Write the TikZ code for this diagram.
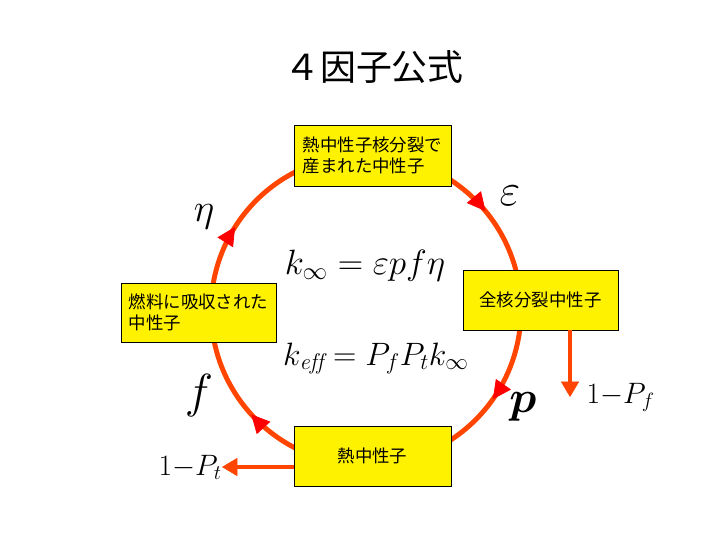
\documentclass[tikz,border=0pt]{standalone}
\usepackage{fix-cm}
\usepackage{amsmath}
\usepackage{fontspec}
\usepackage{xcolor}
\usepackage{tikz}
\usetikzlibrary{arrows.meta,positioning,decorations.markings}

\newfontfamily\jafont{Noto Sans CJK JP}
\definecolor{ringred}{RGB}{255,69,0}

\begin{document}
\begin{tikzpicture}[
    x=0.025cm, y=-0.025cm,
    nbox/.style={
        rectangle, draw=black, line width=0.6pt, fill=yellow,
        align=left, inner sep=0pt,
        font=\fontsize{12.4}{15}\selectfont\jafont,
    },
    ring/.style={
        draw=ringred, line width=3.5pt, postaction={decorate},
        decoration={markings, mark=at position #1 with {\arrow{Triangle[length=13pt,width=13pt,line width=0.5pt,color=red,fill=red]}}},
    },
    branch/.style={draw=ringred, line width=3.5pt, -{Triangle[length=11pt,width=13pt,line width=0.5pt]}},
    sym/.style={font=\fontsize{#1}{#1}\selectfont, inner sep=1pt},
]
\useasboundingbox (0,0) rectangle (720,540);

% points on the cycle
\coordinate (ctop) at (366,155);
\coordinate (cright) at (521,310);
\coordinate (cbot) at (366,465);
\coordinate (cleft) at (211,310);

% Title
\node[font=\fontsize{25.5}{30}\selectfont\jafont] (title) at (374,67) {４因子公式};

% Cycle
\draw[ring=0.56] (ctop) to[bend left=45] (cright);
\draw[ring=0.39] (cright) to[bend left=45] (cbot);
\draw[ring=0.53] (cbot) to[bend left=45] (cleft);
\draw[ring=0.36] (cleft) to[bend left=45] (ctop);

% Boxes
\node[nbox, minimum width=3.925cm, minimum height=1.525cm] (tbox) at (372.5,155.5) {熱中性子核分裂で\\産まれた中性子};
\node[nbox, minimum width=3.875cm, minimum height=1.5cm] (rbox) at (540.5,300) {全核分裂中性子};
\node[nbox, minimum width=3.925cm, minimum height=1.5cm] (bbox) at (372.5,456) {熱中性子};
\node[nbox, minimum width=3.875cm, minimum height=1.475cm] (lbox) at (198.5,312.5) {燃料に吸収された\\中性子};

% Formulas
\node[sym=25, anchor=base] (kinf) at (365,274) {$k_\infty = \varepsilon p f \eta$};
\node[sym=23, anchor=base] (keff) at (376,365) {$k_{\mathit{eff}} = P_f P_t k_\infty$};

% Factors
\node[sym=28] (leta) at (204,217) {$\eta$};
\node[sym=32] (leps) at (510,196) {$\varepsilon$};
\node[sym=32] (lp) at (523,407) {$\boldsymbol{p}$};
\node[sym=34] (lf) at (199,396) {$f$};

% Leakage
\coordinate (pfend) at (570,397);
\coordinate (ptend) at (222,467);
\draw[branch] (rbox.south -| pfend) -- (pfend);
\draw[branch] (bbox.west |- ptend) -- (ptend);
\node[sym=21, anchor=base west] (lpf) at (585,403) {$1{-}P_f$};
\node[sym=21, anchor=base west] (lpt) at (157,475) {$1{-}P_t$};

\end{tikzpicture}
\end{document}
